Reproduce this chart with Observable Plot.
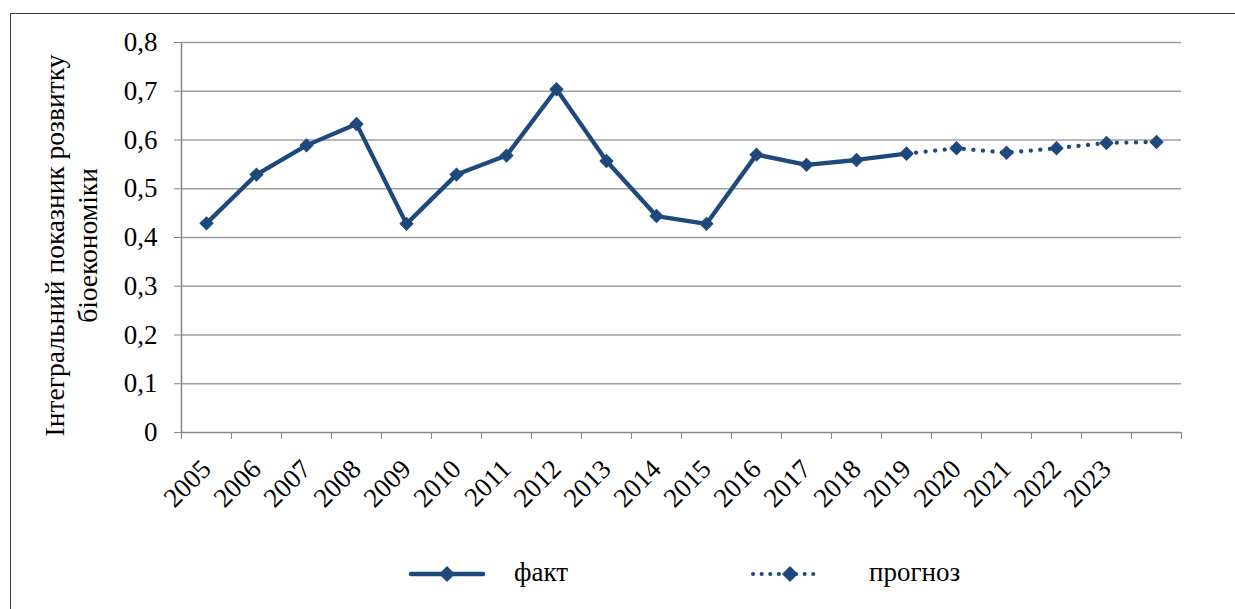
<!DOCTYPE html>
<html>
<head>
<meta charset="utf-8">
<script src="https://cdn.jsdelivr.net/npm/d3@7"></script>
<script src="https://cdn.jsdelivr.net/npm/@observablehq/plot@0.6"></script>
<style>
  html, body { margin: 0; padding: 0; background: #fff; }
  #wrap { position: relative; width: 1235px; height: 609px; overflow: hidden; font-family: 'Liberation Serif', 'Times New Roman', Tinos, 'Noto Serif', 'DejaVu Serif', FreeSerif, serif; }
  #chart { position: absolute; left: 0; top: 0; }
  #border { position: absolute; left: 10px; top: 13px; right: -5px; bottom: -5px; border-left: 1.5px solid #3a3a3a; border-top: 1.5px solid #3a3a3a; pointer-events: none; }
  .leg { position: absolute; font-size: 27px; color: #000; line-height: 1; font-family: inherit; }
</style>
</head>
<body>
<div id="wrap">
  <div id="chart"></div>
  <div id="border"></div>
  <div id="legend"></div>
</div>
<script>
// categories (20 positions; last one has no label)
const years = ["2005","2006","2007","2008","2009","2010","2011","2012","2013","2014","2015","2016","2017","2018","2019","2020","2021","2022","2023",""];
// fact series: 2005..2019
const factValues = [0.429, 0.529, 0.589, 0.633, 0.428, 0.529, 0.568, 0.704, 0.557, 0.444, 0.428, 0.570, 0.549, 0.559, 0.572];
// forecast series: from 2019 position to the last position
const forecastValues = [0.572, 0.583, 0.574, 0.583, 0.594, 0.596];
const forecastStart = 14;
const yTicks = [0, 0.1, 0.2, 0.3, 0.4, 0.5, 0.6, 0.7, 0.8];
const legendLabels = ["факт", "прогноз"];
const yTitle = "Інтегральний показник розвитку\nбіоекономіки";

const color = "#1F497D";
const serif = "'Liberation Serif', 'Times New Roman', Tinos, 'Noto Serif', 'DejaVu Serif', FreeSerif, serif";
const factData = factValues.map((v, i) => ({x: i + 0.5, y: v}));
const forecastData = forecastValues.map((v, i) => ({x: forecastStart + i + 0.5, y: v}));
const labelData = years.map((s, i) => ({x: i + 0.5, s})).filter(d => d.s !== "");

const plot = Plot.plot({
  width: 1235,
  height: 545,
  marginLeft: 181,
  marginRight: 54,
  marginTop: 42,
  marginBottom: 113,
  style: {fontFamily: serif, fontSize: "27px", background: "transparent", color: "#000"},
  x: {type: "linear", domain: [0, years.length], axis: null},
  y: {domain: [0, 0.8], axis: null},
  marks: [
    Plot.gridY(yTicks.filter(d => d > 0), {stroke: "#a0a0a0", strokeWidth: 1.6, strokeOpacity: 1}),
    Plot.axisY({ticks: yTicks, tickSize: 7, tickPadding: 17, stroke: "#868686", fill: "#000", fontSize: 27, fontFamily: serif,
      tickFormat: d => d === 0 ? "0" : d.toFixed(1).replace(".", ","), label: null}),
    Plot.axisX({ticks: d3.range(0, years.length + 1), tickSize: 7, tickFormat: () => "", stroke: "#868686", label: null}),
    Plot.ruleX([0], {stroke: "#868686", strokeWidth: 1.5}),
    Plot.ruleY([0], {stroke: "#868686", strokeWidth: 1.5}),
    Plot.text(labelData, {x: "x", text: "s", frameAnchor: "bottom", dy: 32, rotate: -45, textAnchor: "end", lineAnchor: "middle", fontSize: 27, fontFamily: serif, fill: "#000"}),
    Plot.text([yTitle], {frameAnchor: "left", dx: -112, dy: 8, rotate: -90, textAnchor: "middle", lineAnchor: "middle", lineHeight: 1.2, fontSize: 27.5, fontFamily: serif, fill: "#000"}),
    Plot.line(forecastData, {x: "x", y: "y", stroke: color, strokeWidth: 4.2, strokeDasharray: "0.1 9.5", strokeLinecap: "round"}),
    Plot.line(factData, {x: "x", y: "y", stroke: color, strokeWidth: 4.3, strokeLinejoin: "miter"}),
    Plot.dot(forecastData, {x: "x", y: "y", symbol: "diamond2", r: 6.5, fill: color, stroke: "none"}),
    Plot.dot(factData, {x: "x", y: "y", symbol: "diamond2", r: 6.5, fill: color, stroke: "none"})
  ]
});
document.getElementById("chart").appendChild(plot);

// legend
const lg = document.getElementById("legend");
lg.innerHTML = `
  <svg class="leg" style="left:406px;top:562px" width="82" height="24">
    <line x1="5" y1="12" x2="77" y2="12" stroke="${color}" stroke-width="4.5" stroke-linecap="round"/>
    <path d="M41 4 L49 12 L41 20 L33 12 Z" fill="${color}"/>
  </svg>
  <div class="leg" style="left:514px;top:559px">${legendLabels[0]}</div>
  <svg class="leg" style="left:748px;top:562px" width="72" height="24">
    <line x1="5" y1="12" x2="67" y2="12" stroke="${color}" stroke-width="4" stroke-dasharray="0.1 8.5" stroke-linecap="round"/>
    <path d="M42 4 L50 12 L42 20 L34 12 Z" fill="${color}"/>
  </svg>
  <div class="leg" style="left:869px;top:559px">${legendLabels[1]}</div>
`;
</script>
</body>
</html>
